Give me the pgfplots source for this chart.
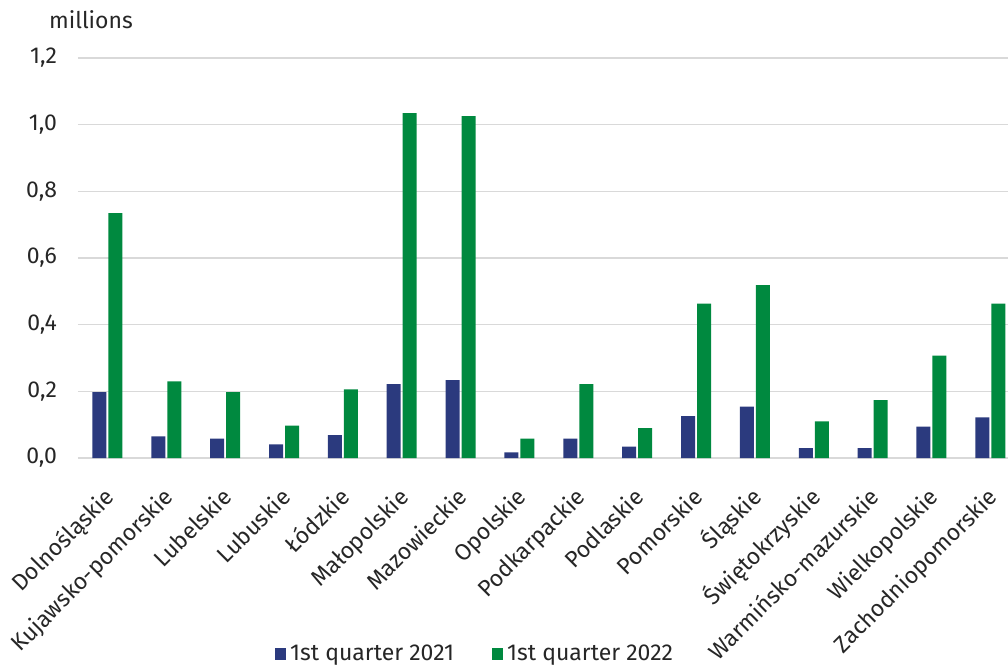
\documentclass[border=0pt]{standalone}
\usepackage{pgfplots}
\pgfplotsset{compat=1.18}
\usepackage{fontspec}
\setmainfont{Fira Sans}
\definecolor{cblue}{HTML}{2B3A7E}
\definecolor{cgreen}{HTML}{00893F}
\definecolor{cgrid}{HTML}{D9D9D9}
\definecolor{ctext}{HTML}{262626}
\begin{document}
\begin{tikzpicture}[font=\fontsize{11.5}{13}\selectfont, every node/.style={text=ctext}]
\useasboundingbox (0,0) rectangle (504pt,333pt);
\begin{axis}[
  at={(39pt,104pt)}, anchor=south west,
  scale only axis, width=465pt, height=200pt,
  xmin=-0.5, xmax=15.3, ymin=0, ymax=1.2,
  ybar, bar width=7pt,
  axis line style={draw=none},
  major tick length=0pt,
  ytick={0,0.2,0.4,0.6,0.8,1.0,1.2},
  ymajorgrids, grid style={draw=cgrid, line width=0.7pt},
  /pgf/number format/fixed, /pgf/number format/fixed zerofill, /pgf/number format/precision=1,
  /pgf/number format/use comma, /pgf/number format/assume math mode=true,
  yticklabel style={xshift=-7pt},
  xtick={0,...,15},
  xticklabels={Dolnośląskie,Kujawsko-pomorskie,Lubelskie,Lubuskie,Łódzkie,Małopolskie,Mazowieckie,Opolskie,Podkarpackie,Podlaskie,Pomorskie,Śląskie,Świętokrzyskie,Warmińsko-mazurskie,Wielkopolskie,Zachodniopomorskie},
  xticklabel style={rotate=45, anchor=east, text height=1.7ex, text depth=0.45ex, yshift=-14pt, xshift=-8pt},
  clip=false,
  legend columns=2,
  legend style={draw=none, fill=none, at={(0.428,-0.49)}, anchor=center, /tikz/every even column/.append style={column sep=17pt}},
  legend image code/.code={\fill[#1] (0pt,-2.8pt) rectangle (5.6pt,2.8pt);},
]
\addplot[fill=cblue, draw=none, bar shift=-4pt] coordinates {
(0,0.198) (1,0.065) (2,0.058) (3,0.041) (4,0.069) (5,0.222) (6,0.234) (7,0.017)
(8,0.058) (9,0.034) (10,0.126) (11,0.154) (12,0.030) (13,0.030) (14,0.094) (15,0.122)};
\addplot[fill=cgreen, draw=none, bar shift=4pt] coordinates {
(0,0.735) (1,0.230) (2,0.198) (3,0.097) (4,0.206) (5,1.035) (6,1.026) (7,0.058)
(8,0.222) (9,0.090) (10,0.463) (11,0.519) (12,0.110) (13,0.174) (14,0.307) (15,0.463)};
\legend{1st quarter 2021,1st quarter 2022}
\end{axis}
\node[anchor=base west] at (21pt,319pt) {millions};
\end{tikzpicture}
\end{document}
